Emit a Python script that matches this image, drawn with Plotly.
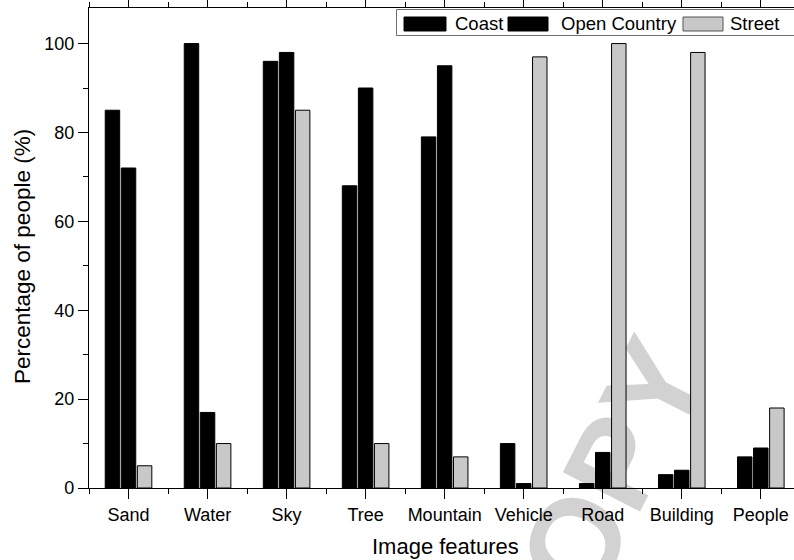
import plotly.graph_objects as go

categories = ["Sand", "Water", "Sky", "Tree", "Mountain", "Vehicle", "Road", "Building", "People"]
coast = [85, 100, 96, 68, 79, 10, 1, 3, 7]
open_country = [72, 17, 98, 90, 95, 1, 8, 4, 9]
street = [5, 10, 85, 10, 7, 97, 100, 98, 18]
series_names = ["Coast", "Open Country", "Street"]
series_colors = ["#000000", "#000000", "#c8c8c8"]
y_ticks = [0, 20, 40, 60, 80, 100]

W, H = 794, 560
L, R, T, B = 89, 0, 8, 72
PW, PH = W - L - R, H - T - B
FONT = "Liberation Sans, Arial, sans-serif"


def px(x):
    return (x - L) / PW


def py(y):
    return (H - B - y) / PH


xs = list(range(len(categories)))
fig = go.Figure()
for name, vals, col in zip(series_names, [coast, open_country, street], series_colors):
    fig.add_trace(go.Bar(
        x=xs, y=vals, name=name, marker=dict(color=col, line=dict(color="#000000", width=1)),
        showlegend=False,
    ))

fig.update_layout(
    width=W, height=H,
    margin=dict(l=L, r=R, t=T, b=B, autoexpand=False),
    paper_bgcolor="white", plot_bgcolor="white",
    barmode="group", bargap=0.39, bargroupgap=0.1,
    font=dict(family=FONT, size=18, color="black"),
    xaxis=dict(
        range=[-0.5, 8.42], tickmode="array", tickvals=xs, ticktext=categories,
        showgrid=False, zeroline=False, showline=True, linecolor="black", linewidth=1.3,
        mirror="ticks", ticks="outside", ticklen=10, tickwidth=1.3, tickcolor="black",
        minor=dict(tickmode="linear", tick0=0.5, dtick=1, ticks="outside", ticklen=5,
                   tickwidth=1.3, tickcolor="black", showgrid=False),
        tickfont=dict(size=18),
    ),
    yaxis=dict(
        range=[0, 108], tickmode="array", tickvals=y_ticks,
        showgrid=False, zeroline=False, showline=True, linecolor="black", linewidth=1.3,
        mirror=False, ticks="outside", ticklen=10, tickwidth=1.3, tickcolor="black",
        minor=dict(tickmode="linear", tick0=10, dtick=20, ticks="outside", ticklen=5,
                   tickwidth=1.3, tickcolor="black", showgrid=False),
        tickfont=dict(size=18),
    ),
)

shapes = []
annotations = []

# watermark (behind the bars)
cx, cy = 582, 503
shapes.append(dict(
    type="rect", xref="paper", yref="paper", layer="below",
    x0=px(cx - 10), x1=px(cx + 10), y0=py(cy + 10), y1=py(cy - 10),
    line=dict(width=0), fillcolor="rgba(0,0,0,0)",
    label=dict(text="COPY", textangle=-63,
               font=dict(family=FONT, size=126, color="#d2d2d2", weight="bold"),
               textposition="middle center"),
))

# legend box
shapes.append(dict(type="rect", xref="paper", yref="paper",
                   x0=px(396.5), x1=px(805), y0=py(35.5), y1=py(9.5),
                   line=dict(color="#6e6e6e", width=1), fillcolor="white"))
legend_items = [(404, 446, 453), (508, 548, 559), (683, 723, 728)]
for (x0, x1, tx), name, col in zip(legend_items, series_names, series_colors):
    shapes.append(dict(type="rect", xref="paper", yref="paper",
                       x0=px(x0), x1=px(x1), y0=py(31), y1=py(17),
                       line=dict(color="#000000" if col == "#000000" else "#555555", width=1),
                       fillcolor=col))
    annotations.append(dict(text=name, xref="paper", yref="paper", x=px(tx), y=py(24),
                            xanchor="left", yanchor="middle", showarrow=False,
                            font=dict(family=FONT, size=18.5, color="black")))

# axis titles
annotations.append(dict(text="Image features", xref="paper", yref="paper",
                        x=px(446), y=py(546), xanchor="center", yanchor="middle",
                        showarrow=False, font=dict(family=FONT, size=22, color="black")))
annotations.append(dict(text="Percentage of people (%)", xref="paper", yref="paper",
                        x=px(22), y=py(257), xanchor="center", yanchor="middle", textangle=-90,
                        showarrow=False, font=dict(family=FONT, size=22.5, color="black")))

fig.update_layout(shapes=shapes, annotations=annotations)
fig.write_html("out.html", config={"displayModeBar": False},
               post_script="document.body.style.margin='0';document.body.style.overflow='hidden';")
